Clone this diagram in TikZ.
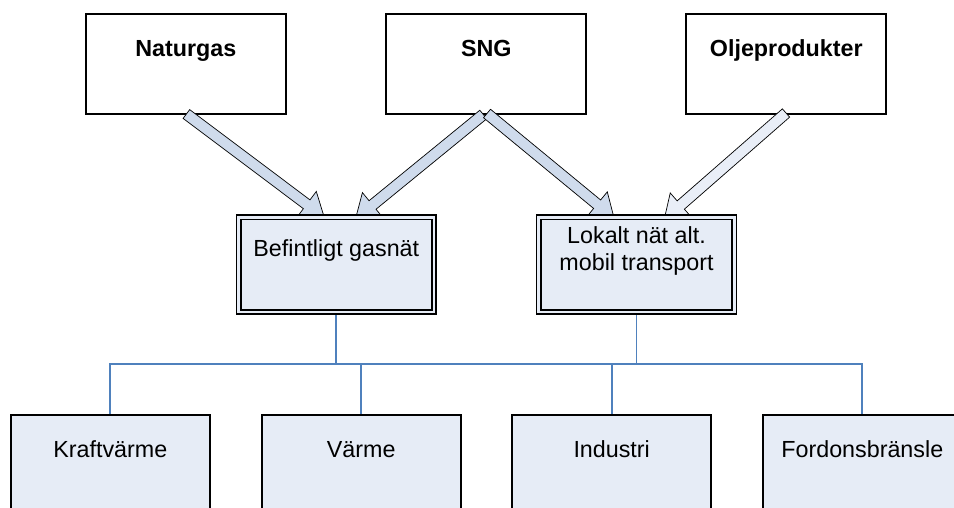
\documentclass[tikz,border=0pt]{standalone}
\usepackage{fontspec}
\setmainfont{Liberation Sans}
\usetikzlibrary{calc}
\definecolor{boxfill}{RGB}{230,236,246}
\definecolor{arrfill}{RGB}{207,219,236}
\definecolor{arrfilltwo}{RGB}{233,238,247}
\definecolor{connblue}{RGB}{79,129,189}
\newcommand{\blockarrow}[3]{%
  \draw[#1] let \p1=(#2), \p2=(#3), \n1={atan2(\y2-\y1,\x2-\x1)} in
   ($(\p1)+(\n1+90:5.5pt)$) -- ($(\p2)+(\n1+180:22pt)+(\n1+90:5.5pt)$)
   -- ($(\p2)+(\n1+180:22pt)+(\n1+90:16pt)$) -- (\p2)
   -- ($(\p2)+(\n1+180:22pt)+(\n1-90:16pt)$) -- ($(\p2)+(\n1+180:22pt)+(\n1-90:5.5pt)$)
   -- ($(\p1)+(\n1-90:5.5pt)$) -- cycle;}
\tikzset{
  topbox/.style={draw=black, line width=1.8pt, fill=white, minimum width=200pt, minimum height=99.5pt, inner sep=0pt},
  midbox/.style={draw=black, line width=1.6pt, double=boxfill, double distance=2.7pt, fill=boxfill, minimum width=195.4pt, minimum height=94.8pt, inner sep=0pt},
  botbox/.style={draw=black, line width=1.8pt, fill=boxfill, minimum width=199pt, minimum height=99.5pt, inner sep=0pt},
  lbl/.style={anchor=base, inner sep=0pt, font=\fontsize{23.3}{27}\selectfont},
  blbl/.style={lbl, font=\fontsize{23.3}{27}\selectfont\bfseries},
  conn/.style={draw=connblue, line width=1.8pt},
  arrA/.style={draw=black, line width=0.7pt, fill=arrfill, line join=miter},
  arrB/.style={draw=black, line width=0.7pt, fill=arrfilltwo, line join=miter}
}
\begin{document}
\begin{tikzpicture}[x=1pt, y=-1pt]
\clip (0,0) rectangle (954,508);
\fill[white] (0,0) rectangle (954,508);
% top boxes
\node[topbox] (t1) at (185.8,64) {};
\node[topbox] (t2) at (486.3,64) {};
\node[topbox] (t3) at (786.3,64) {};
\node[blbl] (t1l) at (185.8,56.3) {Naturgas};
\node[blbl] (t2l) at (486.3,56.3) {SNG};
\node[blbl] (t3l) at (786.3,56.3) {Oljeprodukter};
% arrow end points
\coordinate (a1s) at (186.4,114);
\coordinate (a1e) at (324.3,217.5);
\coordinate (a2s) at (483.3,114.5);
\coordinate (a2e) at (355.5,218.9);
\coordinate (a3s) at (487,113.5);
\coordinate (a3e) at (614.1,218.2);
\coordinate (a4s) at (786,113);
\coordinate (a4e) at (664.2,219.5);
\blockarrow{arrA}{a1s}{a1e}
\blockarrow{arrA}{a2s}{a2e}
\blockarrow{arrA}{a3s}{a3e}
\blockarrow{arrB}{a4s}{a4e}
% connectors
\coordinate (bus) at (0,364.3);
\node[botbox] (b1) at (110.3,465) {};
\node[botbox] (b2) at (361.2,465) {};
\node[botbox] (b3) at (611.7,465) {};
\node[botbox] (b4) at (862.3,465) {};
\coordinate (m1c) at (336.3,264.65);
\coordinate (m2c) at (636.5,264.65);
\foreach \b in {b1,b2,b3,b4}{
  \draw[conn] (m1c) -- (m1c |- bus) -| (\b.north);
  \draw[conn] (m2c) -- (m2c |- bus) -| (\b.north);
}
% redraw bottom boxes on top of connector ends
\node[botbox] (b1f) at (110.3,465) {};
\node[botbox] (b2f) at (361.2,465) {};
\node[botbox] (b3f) at (611.7,465) {};
\node[botbox] (b4f) at (862.3,465) {};
\node[lbl] (b1l) at (110.3,457.3) {Kraftvärme};
\node[lbl] (b2l) at (361.2,457.3) {Värme};
\node[lbl] (b3l) at (611.7,457.3) {Industri};
\node[lbl] (b4l) at (862.3,457.3) {Fordonsbränsle};
% middle boxes
\node[midbox] (m1) at (m1c) {};
\node[midbox] (m2) at (m2c) {};
\node[lbl] (m1l) at (336.3,256.7) {Befintligt gasnät};
\node[lbl] (m2l) at (636.5,243.3) {Lokalt nät alt.};
\node[lbl] (m2l2) at (636.5,270) {mobil transport};
\end{tikzpicture}
\end{document}
